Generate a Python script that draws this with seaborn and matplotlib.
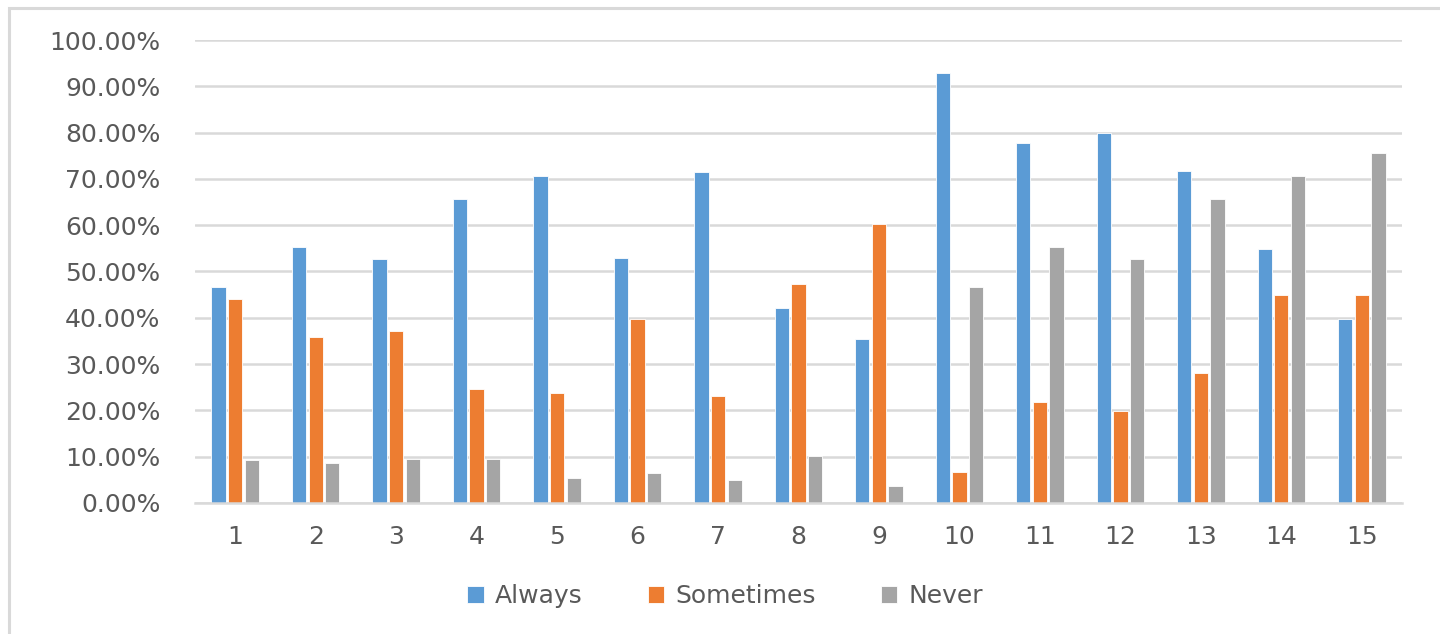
import matplotlib
matplotlib.use("Agg")
import matplotlib.pyplot as plt
from matplotlib.patches import Rectangle
from matplotlib.ticker import PercentFormatter, MultipleLocator
import pandas as pd
import seaborn as sns

# Survey items and share of responses per answer
items = [str(i) for i in range(1, 16)]
always = [0.466, 0.552, 0.527, 0.657, 0.706, 0.530, 0.714, 0.422, 0.355, 0.929,
          0.778, 0.799, 0.717, 0.548, 0.397]
sometimes = [0.440, 0.358, 0.371, 0.246, 0.237, 0.397, 0.231, 0.473, 0.603, 0.068,
             0.219, 0.198, 0.280, 0.449, 0.449]
never = [0.092, 0.086, 0.096, 0.096, 0.053, 0.065, 0.050, 0.101, 0.037, 0.466,
         0.552, 0.527, 0.657, 0.706, 0.757]
series_names = ["Always", "Sometimes", "Never"]
colors = ["#5B9BD5", "#ED7D31", "#A5A5A5"]

df = pd.DataFrame({
    "Item": items * 3,
    "Series": [s for s in series_names for _ in items],
    "Share": always + sometimes + never,
})

sns.set_theme(style="white")
plt.rcParams["font.family"] = ["DejaVu Sans"]
text_color = "#595959"
grid_color = "#D9D9D9"

fig = plt.figure(figsize=(14.4, 6.34), dpi=100)
ax = fig.add_axes([195 / 1440, 1 - 503 / 634, (1402 - 195) / 1440, (503 - 40) / 634])

sns.barplot(data=df, x="Item", y="Share", hue="Series", order=items,
            hue_order=series_names, palette=colors, width=0.62, gap=0.14,
            edgecolor="white", linewidth=0.6, saturation=1, ax=ax, legend=True)

ax.set_ylim(0, 1.0)
ax.set_xlim(-0.5, len(items) - 0.5)
ax.yaxis.set_major_locator(MultipleLocator(0.1))
ax.yaxis.set_major_formatter(PercentFormatter(1.0, decimals=2))
ax.grid(axis="y", color=grid_color, linewidth=1.8)
ax.set_axisbelow(True)
for side in ["top", "right", "left"]:
    ax.spines[side].set_visible(False)
ax.spines["bottom"].set_color(grid_color)
ax.spines["bottom"].set_linewidth(1.8)
ax.set_xlabel("")
ax.set_ylabel("")
ax.tick_params(axis="y", length=0, pad=25, labelsize=18, labelcolor=text_color)
ax.tick_params(axis="x", length=0, pad=16, labelsize=18, labelcolor=text_color)

handles, labels = ax.get_legend_handles_labels()
ax.get_legend().remove()
fig.legend(handles, labels, loc="center", bbox_to_anchor=(725 / 1440, 1 - 596 / 634),
           ncol=3, frameon=False, fontsize=18, labelcolor=text_color,
           handlelength=0.65, handleheight=0.65, handletextpad=0.45,
           columnspacing=2.6)

# Outer chart frame (top and left edges visible)
fig.patches.append(Rectangle((9 / 1440, -0.2), 1.2, 1.2 - 8 / 634, transform=fig.transFigure,
                             fill=False, edgecolor=grid_color, linewidth=2.2))

fig.savefig("out.png", dpi=100, facecolor="white")
